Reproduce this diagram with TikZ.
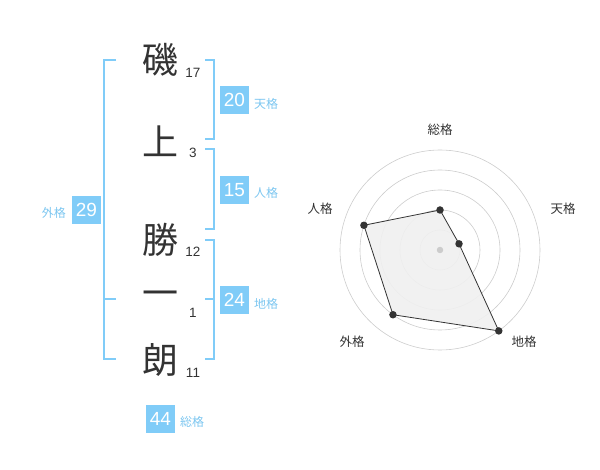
\documentclass[tikz,border=0pt]{standalone}
\usepackage{fontspec}
\setmainfont{Liberation Sans}
\newfontfamily\cjk{Noto Sans CJK JP}
\definecolor{lblue}{HTML}{80CCF8}
\definecolor{tblue}{HTML}{7CC6F0}
\definecolor{ink}{HTML}{333333}
\definecolor{ring}{HTML}{CCCCCC}
\definecolor{polyfill}{HTML}{F0F0F0}
\begin{document}
\begin{tikzpicture}[x=1pt,y=-1pt,
  kanji/.style={font=\cjk\fontsize{36}{36}\selectfont, text=ink, inner sep=0pt},
  strokes/.style={font=\fontsize{13.5}{13.5}\selectfont, text=ink, inner sep=0pt},
  gbox/.style={fill=lblue, text=white, minimum width=29pt, minimum height=28pt, inner sep=0pt, font=\fontsize{19}{19}\selectfont},
  glabel/.style={font=\cjk\fontsize{12}{12}\selectfont, text=tblue, inner sep=0pt},
  brk/.style={draw=lblue, line width=1.4pt},
  ringc/.style={draw=ring, line width=0.6pt},
  rlabel/.style={font=\cjk\fontsize{12.5}{12.5}\selectfont, text=ink, inner sep=0pt},
  dot/.style={circle, fill=ink, inner sep=0pt, minimum size=7.5pt}
]
\useasboundingbox (0,0) rectangle (600,470);
% characters
\node[kanji] (c1) at (160,60) {磯};
\node[kanji] (c2) at (160,141) {上};
\node[kanji] (c3) at (160,240) {勝};
\node[kanji] (c4) at (160,299) {一};
\node[kanji] (c5) at (160,360) {朗};
% stroke counts
\node[strokes] (n1) at (193,73) {17};
\node[strokes] (n2) at (193,153) {3};
\node[strokes] (n3) at (193,252) {12};
\node[strokes] (n4) at (193,313) {1};
\node[strokes] (n5) at (193,373) {11};
% brackets
\draw[brk] (205,60) -- (214,60) -- (214,139) -- (205,139);
\draw[brk] (205,149) -- (214,149) -- (214,229) -- (205,229);
\draw[brk] (205,240) -- (214,240) -- (214,359) -- (205,359);
\draw[brk] (205,299) -- (214,299);
\draw[brk] (116,60) -- (104,60) -- (104,359) -- (116,359);
\draw[brk] (104,299) -- (116,299);
% grade boxes
\node[gbox] (g20) at (234.5,100) {20};
\node[glabel, anchor=west] (l20) at (254,104) {天格};
\node[gbox] (g15) at (234.5,190) {15};
\node[glabel, anchor=west] (l15) at (254,193) {人格};
\node[gbox] (g24) at (234.5,300) {24};
\node[glabel, anchor=west] (l24) at (254,304) {地格};
\node[gbox] (g29) at (86.5,210) {29};
\node[glabel, anchor=east] (l29) at (66,213) {外格};
\node[gbox] (g44) at (160.5,419) {44};
\node[glabel, anchor=west] (l44) at (180,422) {総格};
% radar
\coordinate (O) at (440,250);
\foreach \r in {20,40,60,80,100} \draw[ringc] (O) circle[radius=\r];
\path (O) ++(0,-40) coordinate (p1);
\path (O) ++({20*cos(18)},{-20*sin(18)}) coordinate (p2);
\path (O) ++({100*cos(-54)},{-100*sin(-54)}) coordinate (p3);
\path (O) ++({80*cos(-126)},{-80*sin(-126)}) coordinate (p4);
\path (O) ++({80*cos(162)},{-80*sin(162)}) coordinate (p5);
\draw[ink, line width=0.8pt, fill=polyfill, fill opacity=0.9] (p1) -- (p2) -- (p3) -- (p4) -- (p5) -- cycle;
\foreach \p in {p1,p2,p3,p4,p5} \node[dot] at (\p) {};
\node[circle, fill=ring, inner sep=0pt, minimum size=6.5pt] (ctr) at (O) {};
\node[rlabel] (r1) at (440,130) {総格};
\node[rlabel] (r2) at (563,209) {天格};
\node[rlabel] (r3) at (524,342) {地格};
\node[rlabel] (r4) at (352,342) {外格};
\node[rlabel] (r5) at (320,209) {人格};
\end{tikzpicture}
\end{document}
